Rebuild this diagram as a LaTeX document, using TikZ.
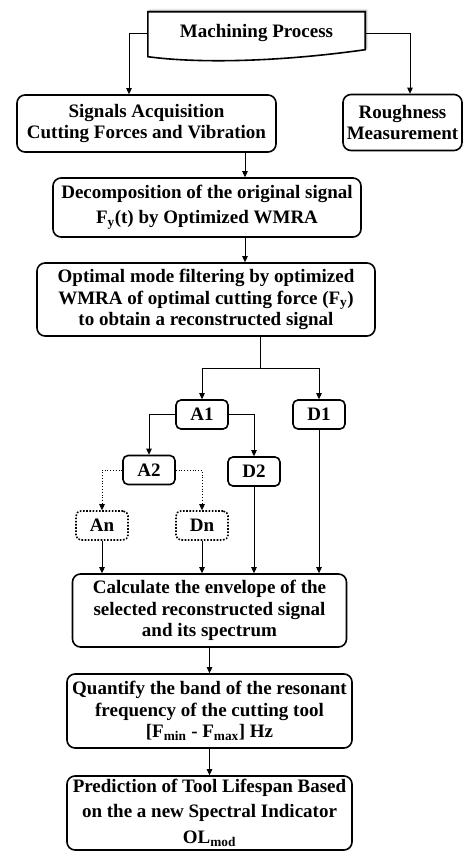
\documentclass[tikz,border=0pt]{standalone}
\usepackage{fontspec}
\setmainfont{Liberation Serif}
\usetikzlibrary{arrows.meta,backgrounds,shadows.blur}

\begin{document}
\begin{tikzpicture}[x=1pt, y=1pt,
    font=\fontsize{19}{21.5}\selectfont\bfseries,
    >={Triangle[length=6pt,width=5.5pt]},
    box/.style={draw, line width=1.6pt, rounded corners=8pt, align=center, inner sep=0pt},
    lvl/.style={box, rounded corners=5pt, minimum width=52pt, minimum height=29pt},
    open/.style={lvl, dash pattern=on 1.6pt off 1.6pt},
    hv/.style={to path={-| (\tikztotarget)}}]
  \useasboundingbox (0,0) rectangle (464,-851);

  \node (mp) [minimum width=217pt, minimum height=45pt, inner sep=0pt] at (256.5,-33)
    {Machining Process};
  \begin{scope}[on background layer]
    \draw[line width=1.6pt, fill=white,
      blur shadow={shadow xshift=1.5pt, shadow yshift=1.5pt, shadow opacity=35, shadow blur steps=6}]
      ([yshift=-1.5pt]mp.north west) -- ([yshift=-1.5pt]mp.north east) -- ([yshift=6pt]mp.south east)
      .. controls +(-85pt,-12pt) and +(52pt,-7pt) .. ([yshift=-1pt]mp.south west) -- cycle;
  \end{scope}
  \node (sig) [box, minimum width=259pt, minimum height=57pt] at (146.5,-123.5)
    {Signals Acquisition\\Cutting Forces and Vibration};
  \node (rough) [box, minimum width=119pt, minimum height=56pt] at (402.5,-122.5)
    {Roughness\\Measurement};
  \node (dec) [box, minimum width=308pt, minimum height=59pt] at (207,-207.5)
    {Decomposition of the original signal\\[3.5pt]F\textsubscript{y}(t) by Optimized WMRA};
  \node (opt) [box, minimum width=338pt, minimum height=73pt] at (206,-299.5)
    {Optimal mode filtering by optimized\\WMRA of optimal cutting force (F\textsubscript{y})\\to obtain a reconstructed signal};
  \coordinate (split) at (260,-368);
  \node (A1) [lvl] at (202,-414.5) {A1};
  \node (D1) [lvl] at (319,-414.5) {D1};
  \node (A2) [lvl] at (149,-470) {A2};
  \node (D2) [lvl] at (254,-471.5) {D2};
  \node (An) [open] at (102,-525.5) {An};
  \node (Dn) [open] at (202,-525.5) {Dn};
  \node (calc) [box, minimum width=274pt, minimum height=73pt] at (209.5,-610.5)
    {Calculate the envelope of the\\selected reconstructed signal\\and its spectrum};
  \node (band) [box, minimum width=285pt, minimum height=74pt] at (209.5,-711)
    {Quantify the band of the resonant\\frequency of the cutting tool\\{[}F\textsubscript{min} - F\textsubscript{max}{]} Hz};
  \node (pred) [box, minimum width=285pt, minimum height=74pt] at (209.5,-813)
    {Prediction of Tool Lifespan Based\\[4pt]on the a new Spectral Indicator\\[4pt]OL\textsubscript{mod}};

  \path[->, line width=0.8pt]
    (mp.west) edge[hv] ([xshift=-17.5pt]sig.north)
    (mp.east) edge[hv] ([xshift=7.5pt]rough.north)
    ([xshift=98.5pt]sig.south) edge ([xshift=38pt]dec.north)
    ([xshift=38pt]dec.south) edge ([xshift=39pt]opt.north)
    ([xshift=54pt]opt.south) edge[-] (split)
    (split) edge[hv] (A1.north) edge[hv] (D1.north)
    (A1.west) edge[hv] (A2.north)
    (A1.east) edge[hv] (D2.north)
    (A2.west) edge[hv, dotted] (An.north)
    (A2.east) edge[hv, dotted] (Dn.north)
    (An.south) edge (An.south |- calc.north)
    (Dn.south) edge (Dn.south |- calc.north)
    (D2.south) edge (D2.south |- calc.north)
    (D1.south) edge (D1.south |- calc.north)
    (calc.south) edge (band.north)
    (band.south) edge (pred.north);
\end{tikzpicture}
\end{document}
